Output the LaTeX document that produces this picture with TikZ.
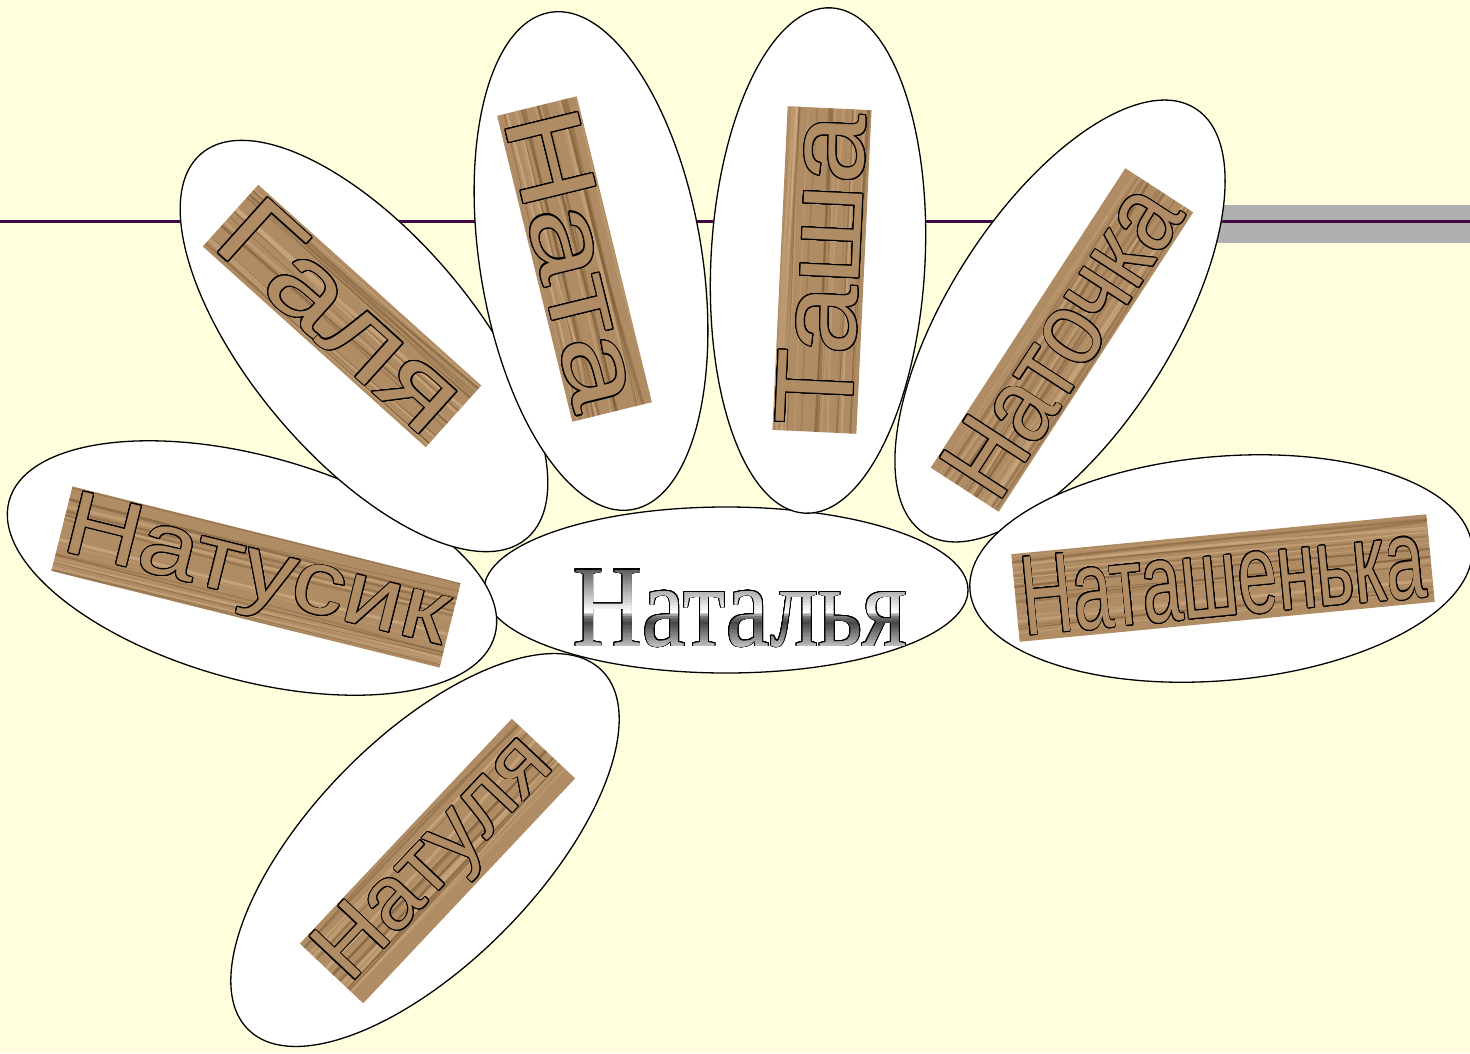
\documentclass[tikz,border=0pt]{standalone}
\usepackage{fontspec}
\usepackage{graphicx}
\usepackage[copies]{contour}
\usetikzlibrary{shapes.geometric}
\newfontfamily\woodfont{Liberation Sans}
\newfontfamily\natfont{Liberation Serif}
\definecolor{bgc}{RGB}{255,255,222}
\definecolor{wood}{RGB}{176,140,100}
\definecolor{wooddark}{RGB}{110,80,45}
\definecolor{woodlight}{RGB}{215,182,140}
\definecolor{lineclr}{RGB}{66,10,66}
\definecolor{barclr}{RGB}{176,176,176}
\contourlength{0.85pt}
\contournumber{24}
\newcommand\natword{\resizebox{334pt}{77pt}{\natfont\fontsize{100}{100}\selectfont Наталья}}
% name, x, y, length, height, angle, text width, text height, text
\newcommand\woodlabel[9]{%
  \node[woodrect, minimum width=#4pt, minimum height=#5pt, rotate=#6] (#1) at (#2,#3) {};
  \begin{scope}[shift={(#1.center)}, rotate=#6]
    \clip (-#4/2,-#5/2) rectangle (#4/2,#5/2);
    \foreach \k in {1,...,22} {
      \pgfmathsetmacro\ya{(rnd-0.5)*#5}
      \pgfmathsetmacro\yb{\ya+(rnd-0.5)*10}
      \pgfmathsetmacro\ym{\ya+(rnd-0.5)*8}
      \pgfmathsetmacro\lw{0.6+rnd*2.4}
      \pgfmathsetmacro\op{0.2+rnd*0.35}
      \pgfmathparse{mod(\k,2)==0 ? "wooddark" : "woodlight"}
      \edef\gc{\pgfmathresult}
      \draw[color=\gc, line width=\lw pt, opacity=\op] (-#4/2-5,\ya) .. controls (0,\ym) .. (#4/2+5,\yb);
    }
  \end{scope}
  \node[inner sep=0pt, rotate=#6] (#1t) at (#1.center) {\resizebox*{#7pt}{#8pt}{\woodfont\fontsize{90}{90}\selectfont\contour{black}{\textcolor{wood}{#9}}}};
}
\begin{document}
\begin{tikzpicture}[x=1pt, y=-1pt,
  petal/.style={ellipse, draw=black, line width=1.3pt, fill=white, inner sep=0pt},
  woodrect/.style={fill=wood, inner sep=0pt}]
\pgfmathsetseed{42}
\fill[bgc] (0,0) rectangle (1470,1053);
\useasboundingbox (0,0) rectangle (1470,1053);
% decorative rule and bar
\fill[barclr] (1216,205) rectangle (1470,243);
\coordinate (lineL) at (0,221.5);
\coordinate (lineR) at (1470,221.5);
\draw[lineclr, line width=3.5pt] (lineL) -- (lineR);
% ellipses
\node[petal, minimum width=484pt, minimum height=166pt] (cen) at (726,590) {};
\node[petal, minimum width=504pt, minimum height=226pt, rotate=45.5] (eNatulya) at (425,850) {};
\node[petal, minimum width=504pt, minimum height=224pt, rotate=-15.5] (eNatusik) at (252,568) {};
\node[petal, minimum width=504pt, minimum height=224pt, rotate=-49.8] (eGalya) at (364,346) {};
\node[petal, minimum width=504pt, minimum height=222pt, rotate=-80.7] (eNata) at (591,261) {};
\node[petal, minimum width=506pt, minimum height=214pt, rotate=87] (eTasha) at (818,260.5) {};
\node[petal, minimum width=504pt, minimum height=224pt, rotate=57.5] (eNatochka) at (1060,321) {};
\node[petal, minimum width=504pt, minimum height=224pt, rotate=5] (eNatashenka) at (1221,568.5) {};
% wood labels
\woodlabel{wNatusik}{256}{577}{400}{87}{-14}{392}{82}{Натусик}
\woodlabel{wGalya}{342}{316}{300}{83}{-42}{290}{76}{Галя}
\woodlabel{wNata}{574.5}{259}{315}{82}{-76.2}{305}{76}{Ната}
\woodlabel{wTasha}{822}{270}{324}{84}{87.3}{312}{78}{Таша}
\woodlabel{wNatochka}{1062}{340}{357}{81}{57}{345}{76}{Наточка}
\woodlabel{wNatashenka}{1223}{578}{417}{88}{5.5}{405}{80}{Наташенька}
\woodlabel{wNatulya}{437.5}{861}{309}{87}{46.7}{300}{82}{Натуля}
% central name: black outline, then metallic bands
\node[inner sep=0pt, text=black] (nat) at (740,608.5) {\contourlength{0.9pt}\contour{black}{\natword}};
\foreach \i in {0,...,47} {
  \pgfmathsetmacro\tm{(\i+0.5)/48}
  \pgfmathsetmacro\g{\tm<0.45 ? 95+130*\tm/0.45 : (\tm<0.55 ? 225+30*(\tm-0.45)/0.1 : (\tm<0.62 ? 255-145*(\tm-0.55)/0.07 : (\tm<0.7 ? 110-40*(\tm-0.62)/0.08 : 70+120*(\tm-0.7)/0.3)))}
  \pgfmathsetmacro\pw{\g/2.55}
  \pgfmathsetmacro\ya{570.5+76*\i/48}
  \pgfmathsetmacro\yb{570.5+76*(\i+1)/48+0.4}
  \begin{scope}
    \clip (560,\ya) rectangle (920,\yb);
    \node[inner sep=0pt, text=white!\pw!black] (natb\i) at (nat.center) {\natword};
  \end{scope}
}
\end{tikzpicture}
\end{document}
